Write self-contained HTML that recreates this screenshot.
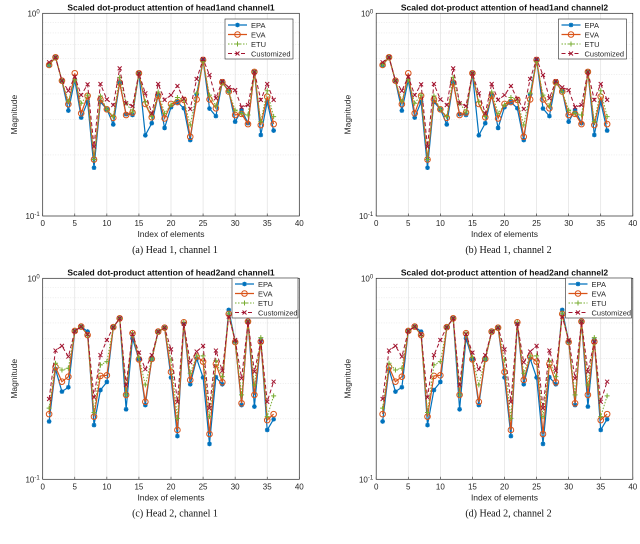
<!DOCTYPE html>
<html><head><meta charset="utf-8"><style>
body{margin:0;background:#fff;width:640px;height:539px;overflow:hidden;font-family:"Liberation Sans",sans-serif}
</style></head><body>
<svg id="root" width="640" height="539" xmlns="http://www.w3.org/2000/svg"></svg>
<script>
const idx=[1,2,3,4,5,6,7,8,9,10,11,12,13,14,15,16,17,18,19,20,21,22,23,24,25,26,27,28,29,30,31,32,33,34,35,36];
const xTicks=[0,5,10,15,20,25,30,35,40];
const h1EPA=[.556,.607,.465,.331,.469,.306,.366,.173,.366,.336,.283,.455,.318,.315,.506,.250,.287,.395,.272,.344,.365,.340,.237,.398,.589,.339,.311,.457,.414,.292,.333,.287,.514,.251,.366,.264];
const h1EVA=[.556,.607,.465,.356,.506,.321,.392,.190,.376,.336,.305,.455,.315,.324,.506,.357,.307,.392,.303,.357,.365,.374,.246,.376,.589,.376,.340,.457,.411,.315,.319,.284,.514,.281,.388,.284];
const h1ETU=[.556,.607,.465,.369,.469,.360,.395,.190,.391,.336,.309,.483,.360,.326,.506,.366,.309,.409,.321,.353,.384,.374,.281,.403,.577,.395,.349,.457,.411,.333,.321,.315,.514,.292,.415,.309];
const h1CUS=[.573,.607,.465,.415,.487,.395,.446,.220,.448,.376,.353,.535,.360,.349,.506,.403,.321,.448,.374,.395,.438,.378,.337,.474,.594,.496,.381,.462,.431,.418,.344,.353,.514,.374,.448,.374];
const h2EPA=[.194,.353,.273,.287,.547,.575,.543,.186,.278,.305,.571,.632,.223,.503,.395,.234,.397,.543,.568,.321,.164,.593,.297,.398,.321,.150,.322,.297,.696,.484,.234,.609,.230,.493,.176,.199];
const h2EVA=[.211,.362,.306,.324,.547,.575,.522,.205,.327,.329,.571,.632,.263,.533,.395,.243,.397,.543,.568,.342,.176,.604,.312,.408,.385,.168,.375,.304,.665,.482,.239,.609,.263,.484,.197,.211];
const h2ETU=[.226,.378,.350,.357,.547,.575,.522,.215,.371,.385,.571,.632,.263,.533,.405,.295,.397,.543,.568,.392,.201,.604,.337,.411,.411,.205,.389,.324,.670,.482,.263,.609,.295,.507,.205,.260];
const h2CUS=[.251,.437,.461,.408,.547,.575,.526,.256,.415,.493,.571,.632,.295,.528,.427,.353,.415,.543,.568,.443,.243,.593,.382,.432,.461,.226,.437,.347,.645,.493,.318,.609,.343,.484,.243,.306];
const seriesNames=["EPA","EVA","ETU","Customized"];
const NS="http://www.w3.org/2000/svg";
const root=document.getElementById('root');
function mk(tag,attrs,parent,text){const e=document.createElementNS(NS,tag);for(const k in attrs)e.setAttribute(k,attrs[k]);if(text!==undefined)e.textContent=text;parent.appendChild(e);return e;}
const styles=[{c:"#0072BD",dash:"",m:"star",w:1.2},{c:"#D95319",dash:"",m:"circle",w:1.2},{c:"#77AC30",dash:"1.5,1.5",m:"plus",w:1},{c:"#A2142F",dash:"4,2.5",m:"x",w:1}];
function marker(g,type,x,y,c){
  if(type==="circle"){mk('circle',{cx:x,cy:y,r:2.8,fill:'none',stroke:c,'stroke-width':1},g);}
  else if(type==="plus"){mk('path',{d:`M${x-2.5},${y}h5M${x},${y-2.5}v5`,stroke:c,'stroke-width':1},g);}
  else if(type==="x"){mk('path',{d:`M${x-2},${y-2}l4,4M${x-2},${y+2}l4,-4`,stroke:c,'stroke-width':1},g);}
  else {mk('path',{d:`M${x-2.3},${y}h4.6M${x},${y-2.3}v4.6M${x-1.7},${y-1.7}l3.4,3.4M${x-1.7},${y+1.7}l3.4,-3.4`,stroke:c,'stroke-width':1.3},g);}
}
function panel(ox,oy,top,bot,title,caption,data,leg,name){
  const g=mk('g',{transform:`translate(${ox},${oy})`},root);
  
  
  const L=42.7,R=299.3;
  const sx=v=>L+(v-0)/40*(R-L);
  const sy=v=>top+(-Math.log10(v))*(bot-top);
  mk('rect',{x:L,y:top,width:R-L,height:bot-top,fill:'#fff'},g);
  for(const t of xTicks){if(t>0&&t<40)mk('line',{x1:sx(t),x2:sx(t),y1:top,y2:bot,stroke:'#dcdcdc','stroke-width':0.6},g);}
  for(let k=2;k<=9;k++){mk('line',{x1:L,x2:R,y1:sy(k/10),y2:sy(k/10),stroke:'#e2e2e2','stroke-width':0.6,'stroke-dasharray':'1,1.5'},g);}
  mk('rect',{x:L,y:top,width:R-L,height:bot-top,fill:'none',stroke:'#262626','stroke-width':0.7},g);
  for(const t of xTicks){mk('line',{x1:sx(t),x2:sx(t),y1:bot,y2:bot-2.5,stroke:'#262626','stroke-width':0.6},g);
    const tx=mk('text',{x:sx(t),y:bot+10,'font-size':8,'text-anchor':'middle',fill:'#262626'},g,String(t));
    }
  const yt=mk('text',{x:L-3,y:top+3,'font-size':8,'text-anchor':'end',fill:'#262626'},g);
  
  yt.innerHTML='10<tspan dy="-3" font-size="6">0</tspan>';
  const yb=mk('text',{x:L-3,y:bot+3,'font-size':8,'text-anchor':'end',fill:'#262626'},g);
  
  yb.innerHTML='10<tspan dy="-3" font-size="6">-1</tspan>';
  const ti=mk('text',{x:(L+R)/2,y:top-3,'font-size':8.5,'font-weight':'bold','text-anchor':'middle',fill:'#111'},g,title);
  
  const xl=mk('text',{x:(L+R)/2,y:bot+21,'font-size':8.5,'text-anchor':'middle',fill:'#262626'},g,'Index of elements');
  
  const yl=mk('text',{x:0,y:0,'font-size':8.5,'text-anchor':'middle',fill:'#262626',transform:`translate(17,${(top+bot)/2}) rotate(-90)`},g,'Magnitude');
  
  const cp=mk('text',{x:(L+R)/2+4,y:bot+37,'font-size':10,'text-anchor':'middle',fill:'#111','font-family':'Liberation Serif, serif'},g,caption);
  
  data.forEach((arr,si)=>{const s=styles[si];
    const sg=mk('g',{},g);
    
    
    const d=arr.map((v,i)=>(i?'L':'M')+sx(idx[i]).toFixed(1)+','+sy(v).toFixed(1)).join('');
    mk('path',{d:d,fill:'none',stroke:s.c,'stroke-width':s.w,'stroke-dasharray':s.dash},sg);
    arr.forEach((v,i)=>marker(sg,s.m,sx(idx[i]),sy(v),s.c));
  });
  const lg=mk('g',{},g);
  
  
  mk('rect',{x:leg[0],y:leg[1],width:leg[2],height:40,fill:'#fff',stroke:'#262626','stroke-width':0.6},lg);
  seriesNames.forEach((n,si)=>{const s=styles[si];const yy=leg[1]+6+si*9.5;
    const eg=mk('g',{},lg);
    
    
    mk('line',{x1:leg[0]+3,x2:leg[0]+22,y1:yy,y2:yy,stroke:s.c,'stroke-width':s.w,'stroke-dasharray':s.dash},eg);
    marker(eg,s.m,leg[0]+12.5,yy,s.c);
    mk('text',{x:leg[0]+26,y:yy+3,'font-size':7.5,fill:'#262626'},eg,n);
  });
}
const top1=[h1EPA,h1EVA,h1ETU,h1CUS], bot1=[h2EPA,h2EVA,h2ETU,h2CUS];
panel(0,0,13.3,216,'Scaled dot-product attention of head1and channel1','(a) Head 1, channel 1',top1,[225,19,68],'panel-a');
panel(333.5,0,13.3,216,'Scaled dot-product attention of head1and channel2','(b) Head 1, channel 2',top1,[225,19,68],'panel-b');
panel(0,270,8.3,209.3,'Scaled dot-product attention of head2and channel1','(c) Head 2, channel 1',bot1,[232,8,66],'panel-c');
panel(333.5,270,8.3,209.3,'Scaled dot-product attention of head2and channel2','(d) Head 2, channel 2',bot1,[232,8,66],'panel-d');
</script>
</body></html>
